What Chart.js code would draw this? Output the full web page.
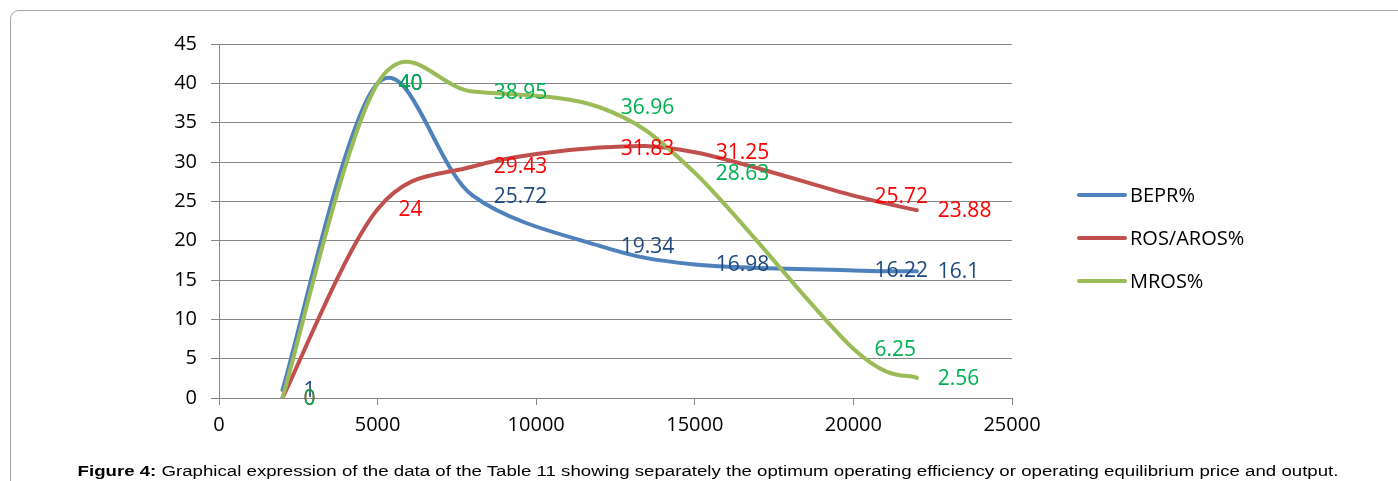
<!DOCTYPE html>
<html>
<head>
<meta charset="utf-8">
<script src="https://cdn.jsdelivr.net/npm/chart.js@4/dist/chart.umd.min.js"></script>
<style>
  html, body { margin: 0; padding: 0; background: #fff; }
  #wrap { position: relative; width: 1398px; height: 481px; overflow: hidden; }
  #frame { position: absolute; left: 10px; top: 10px; width: 1420px; height: 500px;
           border: 1px solid #a6a6a6; border-radius: 9px; box-sizing: border-box; }
  #c { position: absolute; left: 0; top: 0; }
  #caption { position: absolute; left: 708px; top: 462px; transform: translateX(-50%) scaleX(1.212);
             font-family: "Liberation Sans", Arial, sans-serif; font-size: 15.4px; color: #000; white-space: nowrap; }
</style>
</head>
<body>
<div id="wrap">
  <div id="frame"></div>
  <canvas id="c" width="1398" height="481"></canvas>
  <div id="caption"><b>Figure 4:</b> Graphical expression of the data of the Table 11 showing separately the optimum operating efficiency or operating equilibrium price and output.</div>
</div>
<script>
// ---- data ----
const output = [2000, 5000, 8000, 12000, 15000, 20000, 22000];
const bepr = [1, 40, 25.72, 19.34, 16.98, 16.22, 16.1];
const rosAros = [0, 24, 29.43, 31.83, 31.25, 25.72, 23.88];
const mros = [0, 40, 38.95, 36.96, 28.63, 6.25, 2.56];
const seriesNames = ["BEPR%", "ROS/AROS%", "MROS%"];
const xTicks = [0, 5000, 10000, 15000, 20000, 25000];
const yTicks = [0, 5, 10, 15, 20, 25, 30, 35, 40, 45];

const lineColors = ["#4F81BD", "#C0504D", "#9BBB59"];
const labelColors = ["#1F497D", "#FF0000", "#00B050"];
const FONT = "'Open Sans', Lato, sans-serif";

function pts(ys) { return output.map((x, i) => ({ x: x, y: ys[i] })); }

// Excel-like smoothing: uniform Catmull-Rom control points (1/6 of neighbour chord)
const excelSmooth = {
  id: 'excelSmooth',
  beforeDatasetDraw(chart, args) {
    const meta = chart.getDatasetMeta(args.index);
    const line = meta.dataset;
    if (!line) return;
    line.updateControlPoints(chart.chartArea, 'x');
    const p = meta.data;
    const n = p.length;
    for (let i = 0; i < n; i++) {
      const prev = p[Math.max(0, i - 1)];
      const next = p[Math.min(n - 1, i + 1)];
      const dx = (next.x - prev.x) / 6;
      const dy = (next.y - prev.y) / 6;
      p[i].cp1x = p[i].x - dx; p[i].cp1y = p[i].y - dy;
      p[i].cp2x = p[i].x + dx; p[i].cp2y = p[i].y + dy;
    }
    line._path = undefined;
  }
};

const dataLabels = {
  id: 'dataLabels',
  afterDatasetsDraw(chart) {
    const ctx = chart.ctx;
    ctx.save();
    ctx.font = "21px " + FONT;
    ctx.textAlign = 'left';
    ctx.textBaseline = 'middle';
    chart.data.datasets.forEach((ds, di) => {
      const meta = chart.getDatasetMeta(di);
      ctx.fillStyle = labelColors[di];
      meta.data.forEach((el, i) => {
        ctx.fillText(String(ds.data[i].y), el.x + 21, el.y + 1);
      });
    });
    ctx.restore();
  }
};

const legendPlugin = {
  id: 'customLegend',
  afterDraw(chart) {
    const ctx = chart.ctx;
    ctx.save();
    ctx.font = "20px " + FONT;
    ctx.textBaseline = 'middle';
    ctx.textAlign = 'left';
    const ys = [195, 238, 281];
    seriesNames.forEach((n, i) => {
      ctx.strokeStyle = lineColors[i];
      ctx.lineWidth = 4;
      ctx.lineCap = 'round';
      ctx.beginPath();
      ctx.moveTo(1079, ys[i]);
      ctx.lineTo(1125, ys[i]);
      ctx.stroke();
      ctx.fillStyle = '#000';
      ctx.fillText(n, 1130, ys[i] + 1);
    });
    ctx.restore();
  }
};

new Chart(document.getElementById('c'), {
  type: 'scatter',
  data: {
    datasets: [
      { label: seriesNames[0], data: pts(bepr), borderColor: lineColors[0], order: 3 },
      { label: seriesNames[1], data: pts(rosAros), borderColor: lineColors[1], order: 2 },
      { label: seriesNames[2], data: pts(mros), borderColor: lineColors[2], order: 1 }
    ].map(d => Object.assign(d, {
      showLine: true, tension: 0.4, borderWidth: 4, pointRadius: 0,
      borderCapStyle: 'round', borderJoinStyle: 'round', fill: false
    }))
  },
  options: {
    responsive: false,
    animation: false,
    events: [],
    layout: { padding: { top: 44, left: 0, right: 386, bottom: 0 } },
    plugins: { legend: { display: false }, tooltip: { enabled: false } },
    scales: {
      x: {
        type: 'linear', min: 0, max: 25000,
        afterBuildTicks(s) { s.ticks = xTicks.map(v => ({ value: v })); },
        afterFit(s) { s.height = 83; },
        grid: { drawOnChartArea: false, drawTicks: true, tickLength: 7, color: '#868686' },
        border: { display: true, color: '#868686' },
        ticks: { color: '#000', font: { family: FONT, size: 20 }, padding: 8, maxRotation: 0,
                 callback: v => String(v) }
      },
      y: {
        type: 'linear', min: 0, max: 45,
        afterBuildTicks(s) { s.ticks = yTicks.map(v => ({ value: v })); },
        afterFit(s) { s.width = 219; },
        grid: { drawOnChartArea: true, drawTicks: true, tickLength: 8, color: '#868686' },
        border: { display: true, color: '#868686' },
        ticks: { color: '#000', font: { family: FONT, size: 20 }, padding: 14,
                 callback: v => String(v) }
      }
    }
  },
  plugins: [excelSmooth, dataLabels, legendPlugin]
});
</script>
</body>
</html>
